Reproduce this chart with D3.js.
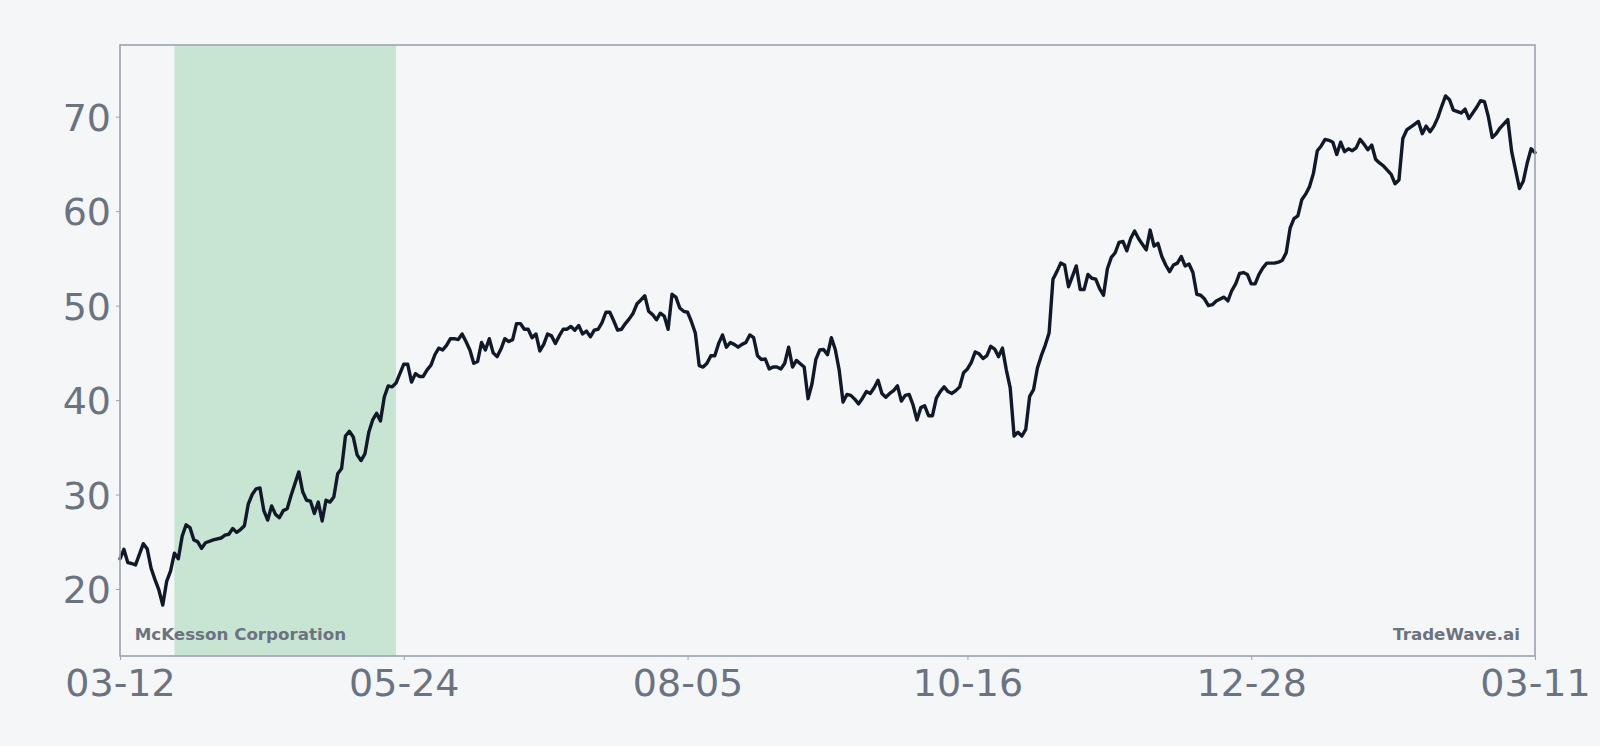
<!DOCTYPE html>
<html>
<head>
<meta charset="utf-8">
<script src="https://cdn.jsdelivr.net/npm/d3@7"></script>
<style>
  html, body { margin: 0; padding: 0; background: #f5f6f8; }
  svg { display: block; }
</style>
</head>
<body>
<svg id="chart" width="1600" height="746"></svg>
<script>
// ---------- data ----------
const startDate = "2024-03-12";
const endDate = "2025-03-11";
const dayOffsets = [
  0,1,2,3,4,6,7,8,9,10,11,12,13,14,15,16,17,18,19,20,21,22,24,26,27,28,29,30,31,32,
  33,34,35,36,37,38,39,40,41,42,43,44,46,47,48,49,50,51,52,53,54,55,56,57,58,59,60,61,62,63,
  64,65,66,67,68,69,70,71,72,73,74,75,76,77,78,79,80,81,82,83,84,85,86,87,88,89,90,91,92,93,
  94,95,96,97,98,99,100,101,102,103,104,105,106,107,108,109,110,111,112,113,114,115,116,117,118,119,120,121,122,123,
  124,125,126,127,128,129,130,131,132,133,134,135,136,137,138,139,140,141,142,143,144,145,146,147,148,149,150,151,152,153,
  154,155,156,157,158,159,160,161,162,163,164,165,166,167,168,169,170,171,172,173,174,175,176,177,178,179,180,181,182,183,
  184,185,186,187,188,189,190,191,192,193,194,195,196,197,198,199,200,201,202,203,204,205,206,207,208,209,210,211,212,213,
  214,215,216,217,218,219,220,221,222,223,224,225,226,227,228,229,230,231,232,233,234,235,236,237,238,239,240,241,242,243,
  244,245,246,247,248,249,250,251,252,253,254,255,256,257,258,259,260,261,262,263,264,265,266,267,268,269,270,271,272,273,
  274,275,276,277,278,279,280,281,282,283,284,285,286,287,288,289,290,291,292,293,294,295,297,298,299,300,301,302,303,304,
  305,306,307,308,309,310,311,312,313,314,315,316,317,318,319,320,321,322,323,324,325,327,328,329,330,331,333,334,335,336,
  337,338,339,340,341,342,343,345,346,347,349,350,351,352,353,354,355,357,358,360,361,362,363,364
];
const prices = [
  23.2,24.2,22.8,22.7,22.55,24.8,24.25,22.2,21.0,19.9,18.3,20.8,21.9,23.8,23.2,25.6,26.8,26.5,25.2,25.0,24.3,24.9,25.2,25.4,25.7,25.8,26.4,26.0,26.3,26.7,
  29.0,30.0,30.6,30.7,28.3,27.3,28.8,27.9,27.55,28.3,28.5,29.9,32.4,30.3,29.4,29.3,28.0,29.2,27.2,29.4,29.2,29.75,32.2,32.75,36.2,36.7,36.1,34.2,33.6,34.3,
  36.6,37.9,38.6,37.8,40.35,41.5,41.4,41.8,42.8,43.8,43.8,41.9,42.8,42.5,42.5,43.2,43.7,44.8,45.5,45.3,45.8,46.5,46.5,46.4,47.0,46.2,45.3,43.9,44.1,46.1,
  45.3,46.5,45.0,44.6,45.4,46.5,46.2,46.4,48.1,48.1,47.5,47.5,46.6,47.0,45.2,45.9,47.0,46.8,46.0,46.8,47.5,47.5,47.8,47.4,47.9,47.0,47.3,46.7,47.4,47.5,
  48.2,49.3,49.3,48.4,47.4,47.5,48.1,48.6,49.2,50.2,50.6,51.05,49.4,49.05,48.5,49.2,48.9,47.5,51.2,50.9,49.75,49.4,49.3,48.3,47.1,43.65,43.5,43.9,44.7,44.7,
  46.0,46.9,45.6,46.1,45.9,45.6,45.9,46.1,46.9,46.6,44.7,44.3,44.35,43.3,43.5,43.5,43.3,43.9,45.6,43.5,44.2,43.85,43.5,40.15,41.7,44.3,45.3,45.35,44.8,46.6,
  45.35,43.2,39.8,40.6,40.5,40.1,39.6,40.2,40.9,40.7,41.3,42.1,40.7,40.3,40.7,41.0,41.5,39.9,40.5,40.6,39.5,37.9,39.2,39.4,38.35,38.35,40.2,40.9,41.4,40.9,
  40.7,41.0,41.4,42.9,43.3,44.0,45.1,44.9,44.4,44.7,45.7,45.4,44.6,45.5,43.2,41.3,36.2,36.6,36.2,36.9,40.4,41.1,43.4,44.7,45.8,47.1,52.8,53.6,54.5,54.3,
  52.0,53.1,54.2,51.7,51.7,53.3,52.9,52.8,51.8,51.1,53.9,55.1,55.6,56.7,56.8,55.8,57.1,57.9,57.1,56.5,55.9,58.0,56.3,56.6,55.2,54.3,53.6,54.3,54.5,55.2,
  54.2,54.4,53.5,51.2,51.1,50.7,50.0,50.1,50.5,50.7,50.9,50.5,51.6,52.3,53.4,53.5,53.3,52.3,52.3,53.3,54.0,54.5,54.5,54.6,54.8,55.6,58.2,59.2,59.5,61.2,
  61.8,62.6,64.0,66.4,66.9,67.6,67.5,67.3,66.0,67.3,66.3,66.6,66.4,66.7,67.6,67.1,66.5,67.0,65.5,65.1,64.8,63.9,62.9,63.3,67.7,68.6,69.2,69.5,68.2,69.0,
  68.4,69.0,69.9,71.1,72.2,71.8,70.7,70.4,70.8,69.8,71.0,71.7,71.6,70.0,67.8,68.2,68.8,69.7,66.3,62.4,63.2,65.1,66.6,66.2
];
const xTickDates = ["2024-03-12","2024-05-24","2024-08-05","2024-10-16","2024-12-28","2025-03-11"];
const yTicks = [20, 30, 40, 50, 60, 70];
const highlightStart = "2024-03-26";
const highlightEnd = "2024-05-22";
const companyLabel = "McKesson Corporation";
const brandLabel = "TradeWave.ai";

// ---------- layout ----------
const W = 1600, H = 746;
const margin = { left: 120, right: 65, top: 45, bottom: 90 };
const plotW = W - margin.left - margin.right;
const plotH = H - margin.top - margin.bottom;
const FONT = "'DejaVu Sans', sans-serif";
const textColor = "#6b7280";
const spineColor = "#9ca3af";

const parse = d3.utcParse("%Y-%m-%d");
const t0 = parse(startDate);
const data = dayOffsets.map((d, i) => ({ date: d3.utcDay.offset(t0, d), value: prices[i] }));

const [vmin, vmax] = d3.extent(prices);
const vr = vmax - vmin;

const x = d3.scaleUtc().domain([t0, parse(endDate)]).range([0, plotW]);
const y = d3.scaleLinear().domain([vmin - 0.1 * vr, vmax + 0.1 * vr]).range([plotH, 0]);

const svg = d3.select("#chart");
svg.append("rect").attr("width", W).attr("height", H).attr("fill", "#f5f6f8");

const g = svg.append("g").attr("transform", `translate(${margin.left},${margin.top})`);

// highlight band
g.append("rect")
  .attr("x", x(parse(highlightStart)))
  .attr("y", 0)
  .attr("width", x(parse(highlightEnd)) - x(parse(highlightStart)))
  .attr("height", plotH)
  .attr("fill", "#c8e5d4");

// line
g.append("path")
  .datum(data)
  .attr("fill", "none")
  .attr("stroke", "#111827")
  .attr("stroke-width", 3.4)
  .attr("stroke-linejoin", "round")
  .attr("stroke-linecap", "round")
  .attr("d", d3.line().x(d => x(d.date)).y(d => y(d.value)));

// frame
g.append("rect")
  .attr("x", 0).attr("y", 0).attr("width", plotW).attr("height", plotH)
  .attr("fill", "none").attr("stroke", spineColor).attr("stroke-width", 1.6);

// axes
const xAxis = d3.axisBottom(x)
  .tickValues(xTickDates.map(parse))
  .tickFormat(d3.utcFormat("%m-%d"))
  .tickSize(4).tickPadding(9);
const yAxis = d3.axisLeft(y)
  .tickValues(yTicks)
  .tickFormat(d3.format("d"))
  .tickSize(4).tickPadding(5);

const gx = g.append("g").attr("transform", `translate(0,${plotH})`).call(xAxis);
const gy = g.append("g").call(yAxis);
[gx, gy].forEach(ax => {
  ax.select(".domain").remove();
  ax.selectAll(".tick line").attr("stroke", spineColor).attr("stroke-width", 1);
  ax.selectAll(".tick text")
    .attr("fill", textColor)
    .style("font-family", FONT)
    .style("font-size", "38px");
});
gy.selectAll(".tick text").attr("dy", "0.36em");

// labels
g.append("text")
  .attr("x", 14.7).attr("y", plotH - 16)
  .attr("fill", textColor)
  .style("font-family", FONT).style("font-size", "16.7px").style("font-weight", "bold")
  .text(companyLabel);
g.append("text")
  .attr("x", plotW - 15).attr("y", plotH - 16)
  .attr("text-anchor", "end")
  .attr("fill", textColor)
  .style("font-family", FONT).style("font-size", "16.7px").style("font-weight", "bold")
  .text(brandLabel);
</script>
</body>
</html>
